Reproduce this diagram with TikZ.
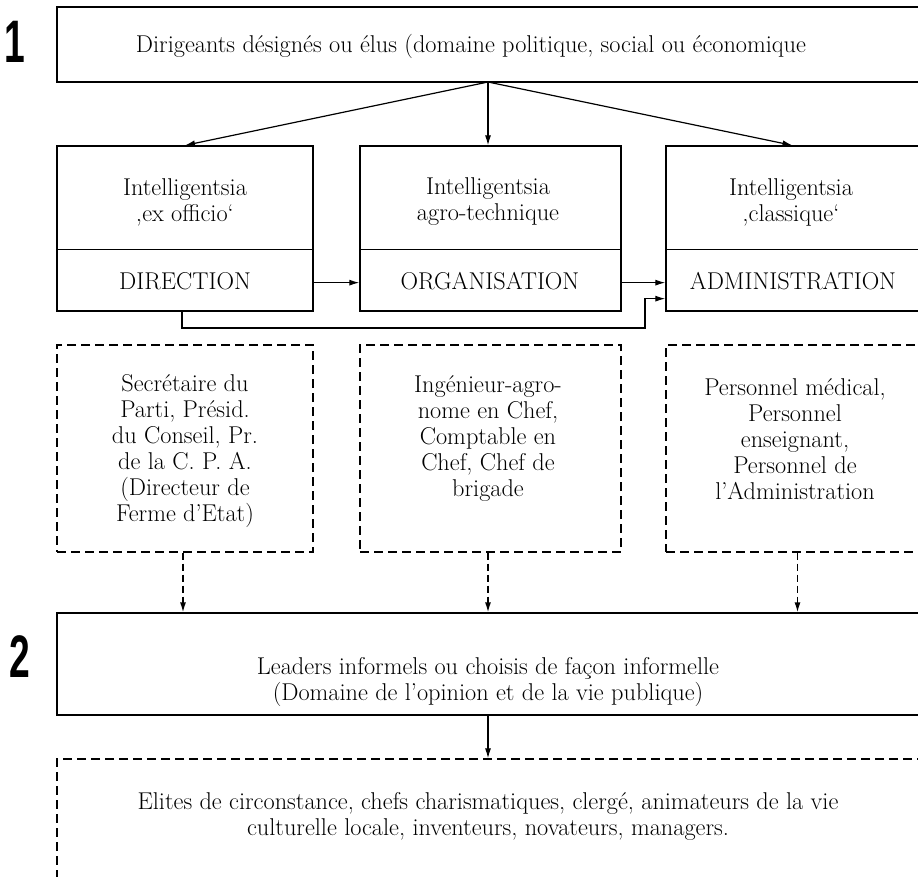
\documentclass[tikz,border=0pt]{standalone}
\usepackage{fontspec}
\newfontfamily\numfont{Liberation Sans}
\usetikzlibrary{arrows.meta,fit,positioning}
\tikzset{
  box/.style={draw, line width=1.3pt, inner sep=0pt},
  dbox/.style={draw, line width=1.3pt, inner sep=0pt, dash pattern=on 9pt off 5pt},
  arr/.style={line width=1.2pt, -{Latex[length=10pt,width=6pt]}},
  darr/.style={line width=1.4pt, dash pattern=on 7pt off 4pt, -{Latex[length=10pt,width=6pt]}},
  txt/.style={align=center, inner sep=0pt, font=\fontsize{24.3}{26}\selectfont},
  bignum/.style={inner sep=0pt, font=\numfont\bfseries\fontsize{60}{60}\selectfont, xscale=0.62}
}
\begin{document}
\begin{tikzpicture}[x=1pt,y=-1pt]
\useasboundingbox[fill=white] (0,0) rectangle (918,876);
\begin{scope}
\clip (0,0) rectangle (918,876);
% boxes
\node[box, fit={(57,7) (925,82)}] (top) {};
\node[box, fit={(57,146) (313,311)}] (lb) {};
\node[box, fit={(360,146) (621,311)}] (mb) {};
\node[box, fit={(666,146) (925,311)}] (rb) {};
\draw[line width=1.3pt] ([yshift=62pt]lb.south west) -- ([yshift=62pt]lb.south east);
\draw[line width=1.3pt] ([yshift=62pt]mb.south west) -- ([yshift=62pt]mb.south east);
\draw[line width=1.3pt] ([yshift=62pt]rb.south west) -- ([yshift=62pt]rb.south east);
\node[dbox, fit={(57,345) (313,552)}] (lbd) {};
\node[dbox, fit={(360,345) (621,552)}] (mbd) {};
\node[dbox, fit={(666,345) (925,552)}] (rbd) {};
\node[box, fit={(57,613) (925,715)}] (b2) {};
\node[dbox, fit={(57,759) (925,900)}] (b3) {};
\end{scope}
% numbers
\node[bignum] (n1) at (15,42) {1};
\node[bignum] (n2) at (20,657) {2};
% texts
\node[txt] (ttop) at (471,46) {Dirigeants désignés ou élus (domaine politique, social ou économique};
\node[txt] (tl) at (185,202) {Intelligentsia\\‚ex officio‘};
\node[txt] (tm) at (488,202) {Intelligentsia\\agro-technique};
\node[txt] (tr) at (791,202) {Intelligentsia\\‚classique‘};
\node[txt] (dl) at (185,281) {DIRECTION};
\node[txt] (dm) at (490,281) {ORGANISATION};
\node[txt] (dr) at (793,281) {ADMINISTRATION};
\node[txt] (pl) at (185,451) {Secrétaire du\\Parti, Présid.\\du Conseil, Pr.\\de la C. P. A.\\(Directeur de\\Ferme d’Etat)};
\node[txt] (pm) at (488,439) {Ingénieur-agro-\\nome en Chef,\\Comptable en\\Chef, Chef de\\brigade};
\node[txt] (pr) at (795,439) {Personnel médical,\\Personnel\\enseignant,\\Personnel de\\l’Administration};
\node[txt] (t2) at (488,682) {Leaders informels ou choisis de façon informelle\\(Domaine de l’opinion et de la vie publique)};
\node[txt] (t3) at (488,816) {Elites de circonstance, chefs charismatiques, clergé, animateurs de la vie\\culturelle locale, inventeurs, novateurs, managers.};
% connectors
\coordinate (br) at (488,82);
\draw[arr] (br) -- (lb.north);
\draw[arr] (br) -- (mb.north -| br);
\draw[arr] (br) -- ([xshift=-3pt]rb.north);
\draw[arr] ([yshift=29pt]lb.south east) -- ([yshift=29pt]mb.south west);
\draw[arr] ([yshift=29pt]mb.south east) -- ([yshift=29pt]rb.south west);
\coordinate (bp) at (645,328);
\draw[arr] ([xshift=-3pt]lb.south) |- (bp) |- ([yshift=13pt]rb.south west);
\coordinate (la) at ([xshift=-2pt]lbd.south);
\coordinate (ra) at ([xshift=2pt]rbd.south);
\draw[darr] (la) -- (b2.north -| la);
\draw[darr] (mbd.south -| br) -- (b2.north -| br);
\draw[darr] (ra) -- (b2.north -| ra);
\draw[arr] (b2.south -| br) -- (b3.north -| br);
\end{tikzpicture}
\end{document}
